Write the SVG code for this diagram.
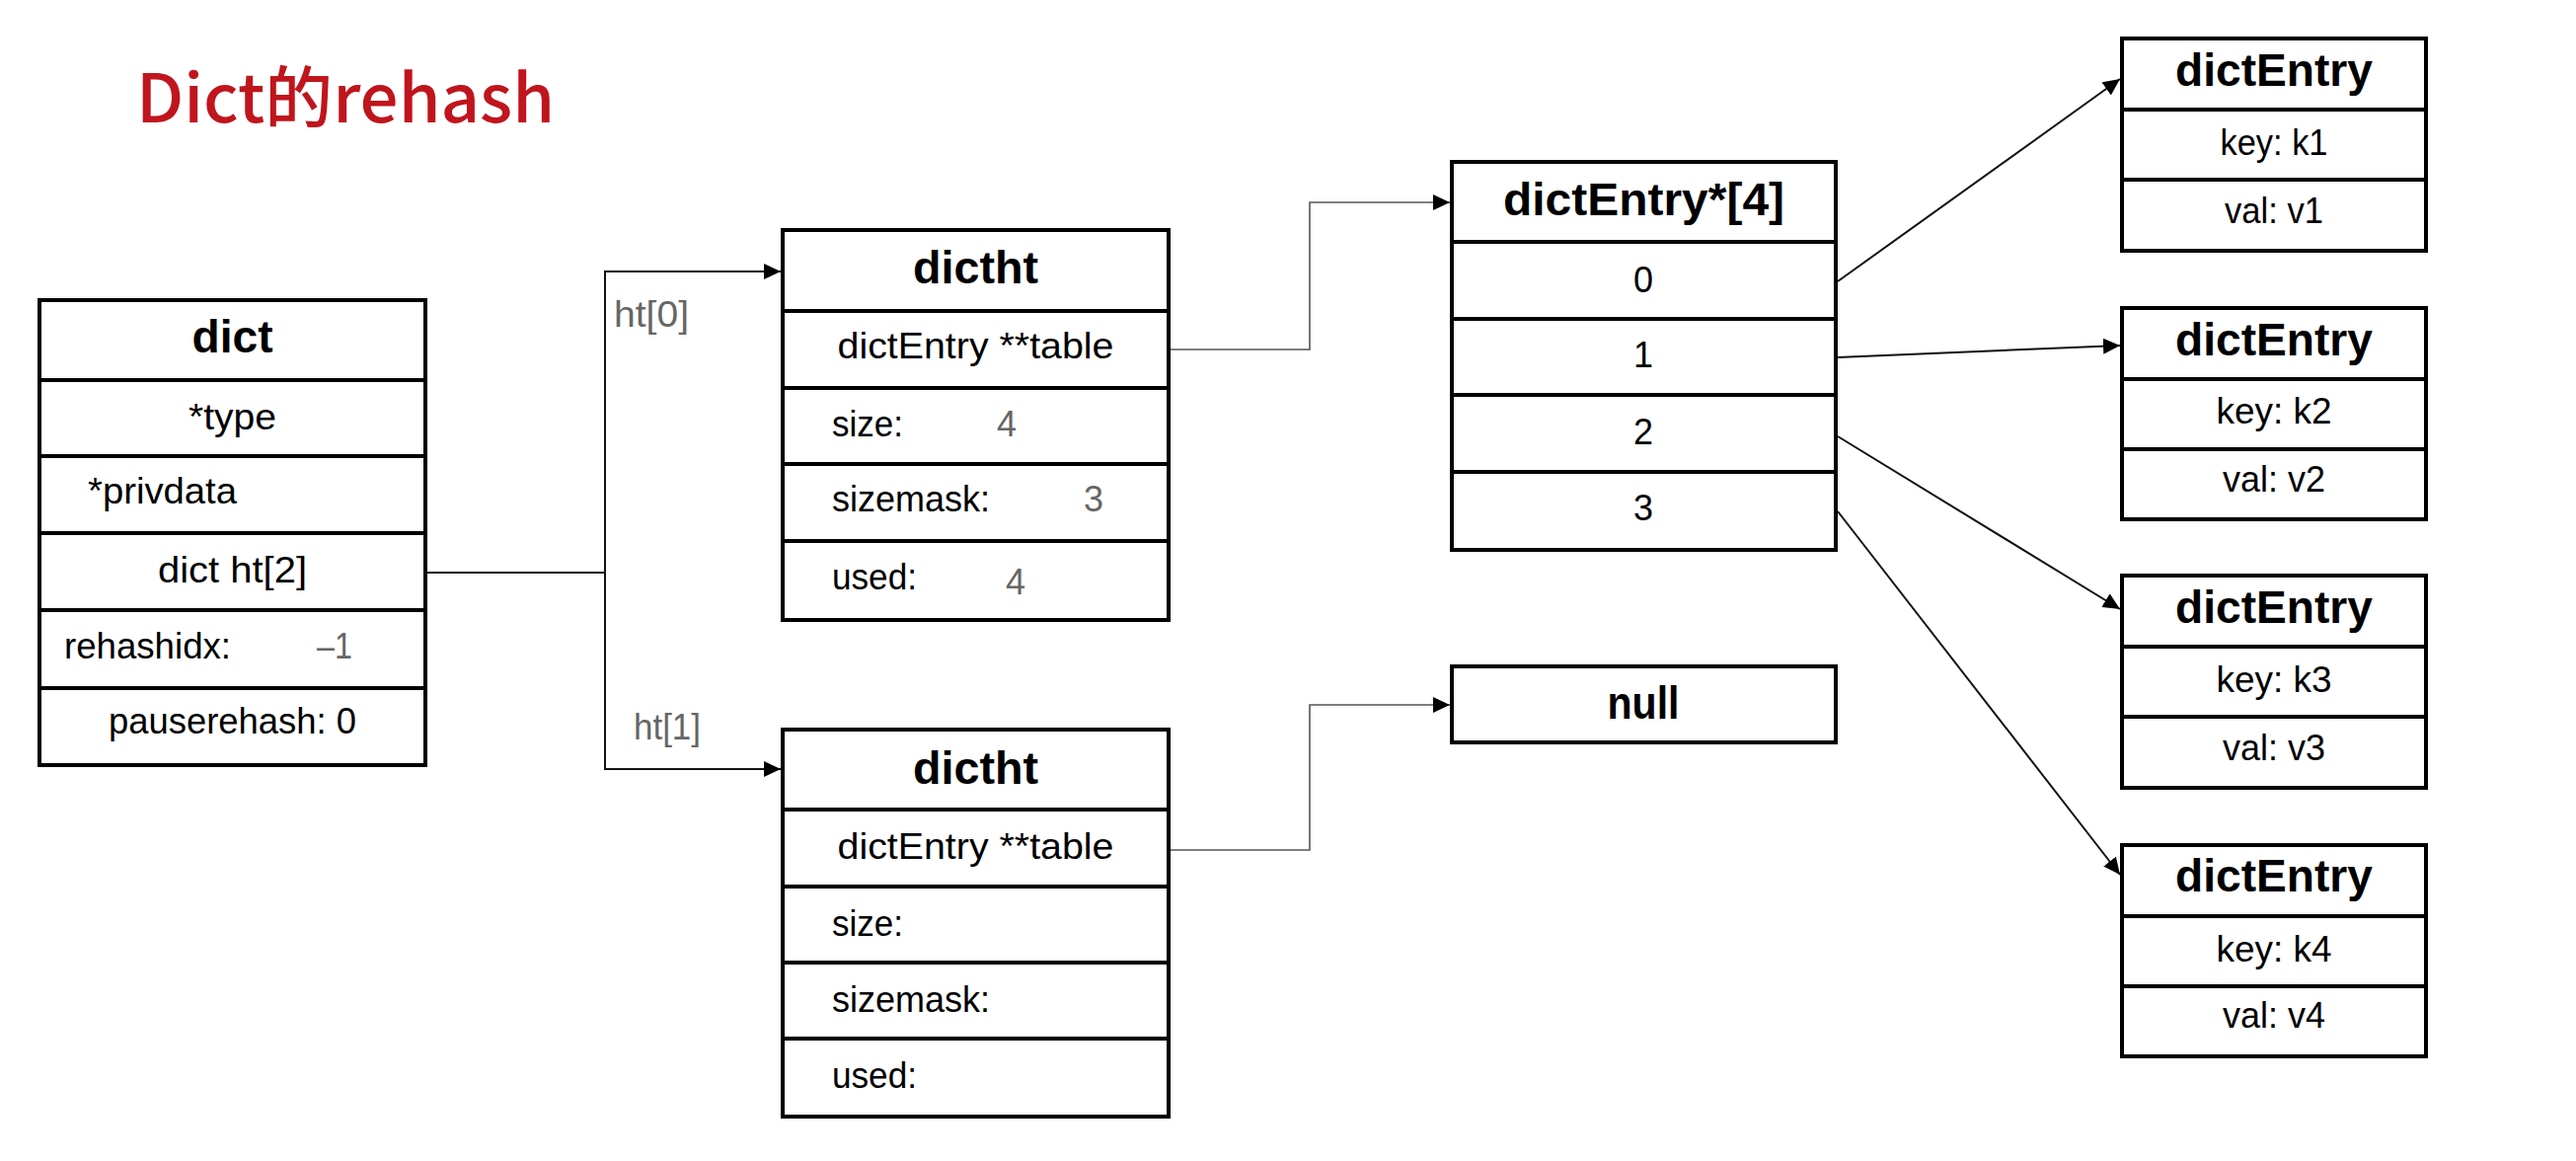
<svg xmlns="http://www.w3.org/2000/svg" width="2610" height="1176" viewBox="0 0 2610 1176">
  <defs>
    <marker id="arrow" markerUnits="userSpaceOnUse" markerWidth="18" markerHeight="16" refX="17" refY="8" orient="auto">
      <path d="M0,0 L17,8 L0,16 Z" fill="#000"/>
    </marker>
  </defs>
  <style>
    text { font-family: "Liberation Sans", "Noto Sans CJK SC", Arial, sans-serif; fill: #000; }
    .box { fill: #fff; stroke: #000; stroke-width: 4; }
    .sep { stroke: #000; stroke-width: 4; }
    .hd { font-size: 46px; font-weight: bold; text-anchor: middle; }
    .tx { font-size: 36px; }
    .c { text-anchor: middle; }
    .gray { fill: #666; }
    .lbl { font-size: 36px; fill: #666; }
    .conn { fill: none; stroke: #111; stroke-width: 2; }
    .conn2 { fill: none; stroke: #555; stroke-width: 1.6; }
    .title { font-family: "Noto Sans CJK SC", "Liberation Sans", sans-serif; font-weight: 500; font-size: 68px; fill: #C0151D; }
  </style>
  <rect width="2610" height="1176" fill="#fff"/>

  <text class="title" x="138" y="124" textLength="424" lengthAdjust="spacingAndGlyphs">Dict的rehash</text>

  <g id="connectors">
    <path class="conn" d="M431,580 H613"/>
    <path class="conn" d="M613,580 V275 H791" marker-end="url(#arrow)"/>
    <path class="conn" d="M613,580 V779 H791" marker-end="url(#arrow)"/>
    <path class="conn2" d="M1185,354 H1327 V205 H1469" marker-end="url(#arrow)"/>
    <path class="conn2" d="M1184,861 H1327 V714 H1469" marker-end="url(#arrow)"/>
    <path class="conn" d="M1862,285 L2148,80" marker-end="url(#arrow)"/>
    <path class="conn" d="M1862,362 L2148,350" marker-end="url(#arrow)"/>
    <path class="conn" d="M1862,442 L2148,617" marker-end="url(#arrow)"/>
    <path class="conn" d="M1862,518 L2148,886" marker-end="url(#arrow)"/>
    <text class="lbl" x="622" y="331" textLength="76" lengthAdjust="spacingAndGlyphs">ht[0]</text>
    <text class="lbl" x="642" y="749" textLength="68" lengthAdjust="spacingAndGlyphs">ht[1]</text>
  </g>

  <g id="dict">
    <rect class="box" x="40" y="304" width="391" height="471"/>
    <line class="sep" x1="40" y1="385" x2="431" y2="385"/>
    <line class="sep" x1="40" y1="462" x2="431" y2="462"/>
    <line class="sep" x1="40" y1="540" x2="431" y2="540"/>
    <line class="sep" x1="40" y1="618" x2="431" y2="618"/>
    <line class="sep" x1="40" y1="697" x2="431" y2="697"/>
    <text class="hd" x="235.5" y="357" textLength="82" lengthAdjust="spacingAndGlyphs">dict</text>
    <text class="tx c" x="235.5" y="435" textLength="89" lengthAdjust="spacingAndGlyphs">*type</text>
    <text class="tx" x="89" y="510" textLength="151" lengthAdjust="spacingAndGlyphs">*privdata</text>
    <text class="tx c" x="235.5" y="590" textLength="151" lengthAdjust="spacingAndGlyphs">dict ht[2]</text>
    <text class="tx" x="65" y="667" textLength="169" lengthAdjust="spacingAndGlyphs">rehashidx:</text>
    <text class="tx gray" x="321" y="667" textLength="36" lengthAdjust="spacingAndGlyphs">–1</text>
    <text class="tx c" x="235.5" y="743" textLength="251" lengthAdjust="spacingAndGlyphs">pauserehash: 0</text>
  </g>

  <g id="dictht0">
    <rect class="box" x="793" y="233" width="391" height="395"/>
    <line class="sep" x1="793" y1="315" x2="1184" y2="315"/>
    <line class="sep" x1="793" y1="393" x2="1184" y2="393"/>
    <line class="sep" x1="793" y1="470" x2="1184" y2="470"/>
    <line class="sep" x1="793" y1="548" x2="1184" y2="548"/>
    <text class="hd" x="988.5" y="287" textLength="127" lengthAdjust="spacingAndGlyphs">dictht</text>
    <text class="tx c" x="988.5" y="363" textLength="280" lengthAdjust="spacingAndGlyphs">dictEntry **table</text>
    <text class="tx" x="843" y="442" textLength="72" lengthAdjust="spacingAndGlyphs">size:</text>
    <text class="tx gray" x="1010" y="442">4</text>
    <text class="tx" x="843" y="518" textLength="160" lengthAdjust="spacingAndGlyphs">sizemask:</text>
    <text class="tx gray" x="1098" y="518">3</text>
    <text class="tx" x="843" y="597" textLength="86" lengthAdjust="spacingAndGlyphs">used:</text>
    <text class="tx gray" x="1019" y="602">4</text>
  </g>

  <g id="dictht1">
    <rect class="box" x="793" y="739" width="391" height="392"/>
    <line class="sep" x1="793" y1="820" x2="1184" y2="820"/>
    <line class="sep" x1="793" y1="898" x2="1184" y2="898"/>
    <line class="sep" x1="793" y1="975" x2="1184" y2="975"/>
    <line class="sep" x1="793" y1="1052" x2="1184" y2="1052"/>
    <text class="hd" x="988.5" y="794" textLength="127" lengthAdjust="spacingAndGlyphs">dictht</text>
    <text class="tx c" x="988.5" y="870" textLength="280" lengthAdjust="spacingAndGlyphs">dictEntry **table</text>
    <text class="tx" x="843" y="948" textLength="72" lengthAdjust="spacingAndGlyphs">size:</text>
    <text class="tx" x="843" y="1025" textLength="160" lengthAdjust="spacingAndGlyphs">sizemask:</text>
    <text class="tx" x="843" y="1102" textLength="86" lengthAdjust="spacingAndGlyphs">used:</text>
  </g>

  <g id="table">
    <rect class="box" x="1471" y="164" width="389" height="393"/>
    <line class="sep" x1="1471" y1="245" x2="1860" y2="245"/>
    <line class="sep" x1="1471" y1="323" x2="1860" y2="323"/>
    <line class="sep" x1="1471" y1="400" x2="1860" y2="400"/>
    <line class="sep" x1="1471" y1="478" x2="1860" y2="478"/>
    <text class="hd" x="1665.5" y="218" textLength="285" lengthAdjust="spacingAndGlyphs">dictEntry*[4]</text>
    <text class="tx c" x="1665" y="296">0</text>
    <text class="tx c" x="1665" y="372">1</text>
    <text class="tx c" x="1665" y="450">2</text>
    <text class="tx c" x="1665" y="527">3</text>
  </g>

  <g id="null">
    <rect class="box" x="1471" y="675" width="389" height="77"/>
    <text class="hd" x="1665" y="728" textLength="73" lengthAdjust="spacingAndGlyphs">null</text>
  </g>

  <g id="entry1">
    <rect class="box" x="2150" y="39" width="308" height="215"/>
    <line class="sep" x1="2150" y1="111" x2="2458" y2="111"/>
    <line class="sep" x1="2150" y1="182" x2="2458" y2="182"/>
    <text class="hd" x="2304" y="87" textLength="200" lengthAdjust="spacingAndGlyphs">dictEntry</text>
    <text class="tx c" x="2304" y="157" textLength="109" lengthAdjust="spacingAndGlyphs">key: k1</text>
    <text class="tx c" x="2304" y="226" textLength="100" lengthAdjust="spacingAndGlyphs">val: v1</text>
  </g>

  <g id="entry2">
    <rect class="box" x="2150" y="312" width="308" height="214"/>
    <line class="sep" x1="2150" y1="384" x2="2458" y2="384"/>
    <line class="sep" x1="2150" y1="455" x2="2458" y2="455"/>
    <text class="hd" x="2304" y="360" textLength="200" lengthAdjust="spacingAndGlyphs">dictEntry</text>
    <text class="tx c" x="2304" y="429" textLength="117" lengthAdjust="spacingAndGlyphs">key: k2</text>
    <text class="tx c" x="2304" y="498" textLength="104" lengthAdjust="spacingAndGlyphs">val: v2</text>
  </g>

  <g id="entry3">
    <rect class="box" x="2150" y="583" width="308" height="215"/>
    <line class="sep" x1="2150" y1="655" x2="2458" y2="655"/>
    <line class="sep" x1="2150" y1="726" x2="2458" y2="726"/>
    <text class="hd" x="2304" y="631" textLength="200" lengthAdjust="spacingAndGlyphs">dictEntry</text>
    <text class="tx c" x="2304" y="701" textLength="117" lengthAdjust="spacingAndGlyphs">key: k3</text>
    <text class="tx c" x="2304" y="770" textLength="104" lengthAdjust="spacingAndGlyphs">val: v3</text>
  </g>

  <g id="entry4">
    <rect class="box" x="2150" y="856" width="308" height="214"/>
    <line class="sep" x1="2150" y1="928" x2="2458" y2="928"/>
    <line class="sep" x1="2150" y1="999" x2="2458" y2="999"/>
    <text class="hd" x="2304" y="903" textLength="200" lengthAdjust="spacingAndGlyphs">dictEntry</text>
    <text class="tx c" x="2304" y="974" textLength="117" lengthAdjust="spacingAndGlyphs">key: k4</text>
    <text class="tx c" x="2304" y="1041" textLength="104" lengthAdjust="spacingAndGlyphs">val: v4</text>
  </g>
</svg>
